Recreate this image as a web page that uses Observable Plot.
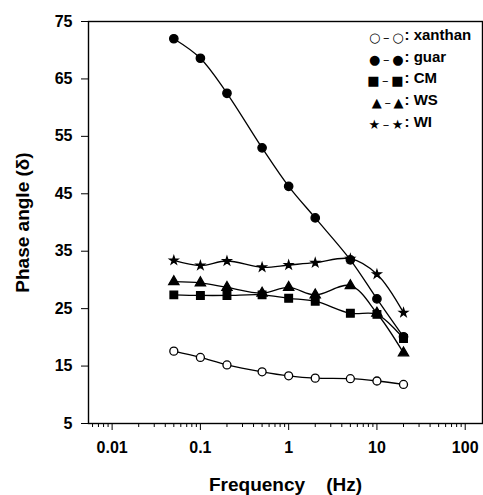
<!DOCTYPE html>
<html>
<head>
<meta charset="utf-8">
<script src="https://cdn.jsdelivr.net/npm/d3@7"></script>
<script src="https://cdn.jsdelivr.net/npm/@observablehq/plot@0.6"></script>
<style>
  html, body { margin: 0; padding: 0; background: #fff; }
  svg { display: block; }
  g[aria-label="xlabel"] text { letter-spacing: 1px; }
  g[aria-label="ylabel"] text { letter-spacing: 1.2px; word-spacing: 4px; }
</style>
</head>
<body>
<div id="chart"></div>
<script>
const freqs   = [0.05, 0.1, 0.2, 0.5, 1, 2, 5, 10, 20];
const xanthan = [17.6, 16.5, 15.2, 14.0, 13.3, 12.9, 12.8, 12.4, 11.8];
const guar    = [72.0, 68.6, 62.5, 53.0, 46.3, 40.8, 33.5, 26.7, 20.1];
const cm      = [27.4, 27.3, 27.3, 27.4, 26.8, 26.3, 24.2, 24.0, 19.8];
const ws      = [29.7, 29.5, 28.7, 27.7, 28.7, 27.4, 29.0, 24.2, 17.3];
const wi      = [33.4, 32.5, 33.3, 32.2, 32.6, 33.0, 33.7, 31.0, 24.3];

const seriesNames = ["xanthan", "guar", "CM", "WS", "WI"];
const seriesValues = [xanthan, guar, cm, ws, wi];
const seriesSymbols = ["circle", "circle", "square", "triangle", "star"];
const seriesFill = ["white", "black", "black", "black", "black"];
const seriesR = [4, 4.2, 4.3, 3.8, 2.6];
const legendSymbols = ["\u25CB\u2009\u2013\u2009\u25CB", "\u25CF\u2009\u2013\u2009\u25CF", "\u25A0\u2009\u2013\u2009\u25A0", "\u25B2\u2009\u2013\u2009\u25B2", "\u2605\u2009\u2013\u2009\u2605"];

const yTicks = [5, 15, 25, 35, 45, 55, 65, 75];
const xMajor = [0.01, 0.1, 1, 10, 100];
const xMinor = [];
for (const d of [0.001, 0.01, 0.1, 1, 10, 100]) {
  for (let k = 2; k <= 9; k++) {
    const v = +(d * k).toPrecision(3);
    if (v > 0.0055 && v < 155) xMinor.push(v);
  }
}

const rows = [];
seriesNames.forEach((name, i) => {
  freqs.forEach((f, j) => rows.push({series: name, f, v: seriesValues[i][j]}));
});

const font = "'Liberation Sans', Arial, Helvetica, sans-serif";

const marks = [
  Plot.frame({stroke: "black", strokeWidth: 1.4}),
  Plot.axisY({ticks: yTicks, tickSize: 7, tickPadding: 9, tickFormat: d => String(d), fontSize: 16, fontWeight: "bold", label: null}),
  Plot.axisX({ticks: xMinor, tickSize: 4, tickFormat: () => "", label: null}),
  Plot.axisX({ticks: xMajor, tickSize: 7, tickPadding: 11, tickFormat: d => String(d), fontSize: 16, fontWeight: "bold", label: null}),
  Plot.text(["Frequency\u00a0\u00a0\u00a0\u00a0(Hz)"], {ariaLabel: "xlabel", frameAnchor: "bottom", dy: 67, fontSize: 19, fontWeight: "bold", fill: "black"}),
  Plot.text(["Phase angle (\u03B4)"], {ariaLabel: "ylabel", frameAnchor: "left", textAnchor: "middle", dx: -66, rotate: -90, fontSize: 19, fontWeight: "bold", fill: "black"}),
  Plot.line(rows, {x: "f", y: "v", z: "series", curve: "catmull-rom", stroke: "black", strokeWidth: 1.3}),
];
seriesNames.forEach((name, i) => {
  marks.push(Plot.dot(rows.filter(d => d.series === name), {x: "f", y: "v", symbol: () => seriesSymbols[i], r: seriesR[i], fill: seriesFill[i], stroke: "black", strokeWidth: 1.3}));
});
marks.push(
  Plot.text([legendSymbols.join("\n")], {frameAnchor: "top-left", dx: 315, dy: 5, textAnchor: "end", lineAnchor: "top", lineHeight: 21.75 / 13, fontSize: 13, fontFamily: "'DejaVu Sans', sans-serif", fill: "black"}),
  Plot.text([seriesNames.map(n => ":\u00a0" + n).join("\n")], {frameAnchor: "top-left", dx: 316, dy: 3, textAnchor: "start", lineAnchor: "top", lineHeight: 1.45, fontSize: 15, fontWeight: "bold", fill: "black"})
);

const chart = Plot.plot({
  width: 483,
  height: 495,
  marginLeft: 88,
  marginTop: 21,
  marginRight: 1,
  marginBottom: 72,
  style: {fontFamily: font, color: "black", background: "white", overflow: "visible"},
  x: {type: "log", domain: [0.0054, 157]},
  y: {domain: [5, 75]},
  marks
});
document.getElementById("chart").appendChild(chart);
</script>
</body>
</html>
